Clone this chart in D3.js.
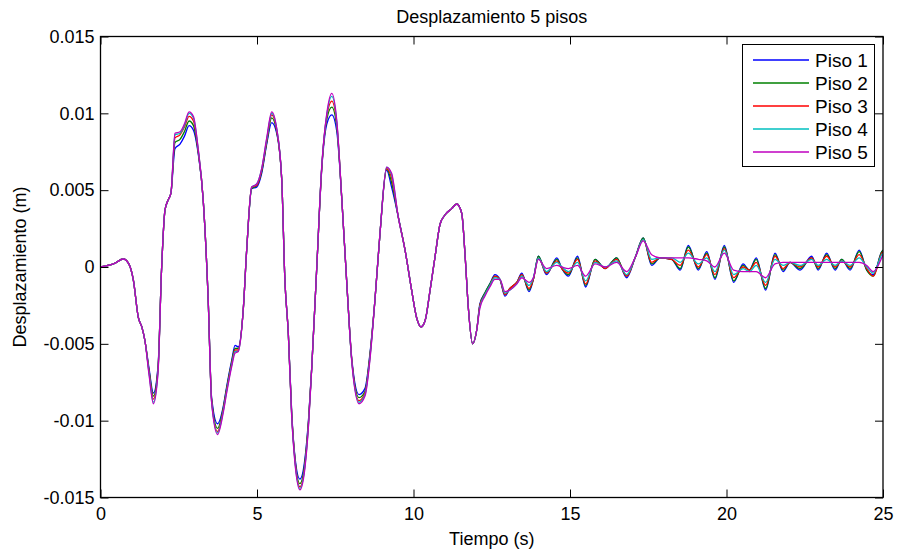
<!DOCTYPE html>
<html>
<head>
<meta charset="utf-8">
<script src="https://cdn.jsdelivr.net/npm/d3@7"></script>
<style>
  html, body { margin: 0; padding: 0; background: #fff; }
  svg { display: block; }
  text { font-family: "Liberation Sans", Arial, Helvetica, sans-serif; fill: #000; }
</style>
</head>
<body>
<svg id="chart" width="897" height="553"></svg>
<script>
// ---------- data ----------
const titulo = "Desplazamiento 5 pisos";
const etiquetaX = "Tiempo (s)";
const etiquetaY = "Desplazamiento (m)";
const series = ["Piso 1", "Piso 2", "Piso 3", "Piso 4", "Piso 5"];
const colores = ["#0000FF", "#008000", "#FF0000", "#00BFBF", "#BF00BF"];
const ticksX = [0, 5, 10, 15, 20, 25];
const ticksY = [-0.015, -0.01, -0.005, 0, 0.005, 0.01, 0.015];

const tiempo = [
  0, 0.45, 0.73, 0.9, 1.05, 1.21, 1.32, 1.42, 1.55, 1.69,
  1.84, 1.95, 2.06, 2.17, 2.25, 2.38, 2.54, 2.68, 2.83, 2.97,
  3.12, 3.28, 3.44, 3.55, 3.74, 3.92, 4.03, 4.19, 4.3, 4.4,
  4.56, 4.67, 4.83, 4.99, 5.15, 5.31, 5.47, 5.63, 5.79, 5.89,
  6.0, 6.11, 6.21, 6.37, 6.53, 6.65, 6.75, 6.91, 7.07, 7.23,
  7.39, 7.55, 7.71, 7.87, 8.03, 8.26, 8.45, 8.61, 8.77, 8.93,
  9.14, 9.3, 9.51, 9.73, 9.94, 10.1, 10.24, 10.37, 10.53, 10.69,
  10.85, 11.01, 11.22, 11.38, 11.54, 11.65, 11.75, 11.89, 12.02,
  12.12, 12.28, 12.44, 12.6, 12.76, 12.92, 13.08, 13.3, 13.46, 13.69,
  13.83, 13.99, 14.25, 14.58, 14.74, 14.95, 15.24, 15.5, 15.8, 16.12,
  16.49, 16.81, 17.08, 17.34, 17.61, 17.88, 18.25, 18.52, 18.78, 19.1,
  19.37, 19.63, 19.93, 20.23, 20.53, 20.73, 20.95, 21.25, 21.55, 21.81,
  22.03, 22.35, 22.72, 22.93, 23.2, 23.47, 23.68, 23.95, 24.24, 24.48,
  24.69, 24.96, 25
];

const piso1 = [
  0, 0.00024, 0.00052, 0.00022, -0.00085, -0.0033, -0.0039, -0.0048, -0.0066, -0.0082,
  -0.0064, -0.0002, 0.0037, 0.0044, 0.0048, 0.0077, 0.0080, 0.0085, 0.0092, 0.0089,
  0.0074, 0.0044, -0.0021, -0.0085, -0.0102, -0.0091, -0.0078, -0.0061, -0.0051, -0.0052,
  -0.0028, 0.0011, 0.0051, 0.0052, 0.0061, 0.0080, 0.0094, 0.0087, 0.0057, -0.0008,
  -0.0043, -0.0095, -0.0123, -0.0138, -0.0125, -0.0098, -0.0065, 0, 0.0064, 0.0093,
  0.0099, 0.0088, 0.0044, -0.0011, -0.0060, -0.0083, -0.0079, -0.0056, -0.0021, 0.0022,
  0.0063, 0.0052, 0.0033, 0.0011, -0.0015, -0.0033, -0.0039, -0.0035, -0.0015, 0.0007,
  0.0028, 0.0034, 0.0038, 0.0041, 0.0035, 0.0007, -0.0026, -0.0050, -0.0041,
  -0.0024, -0.0017, -0.0011, -0.0005, -0.0008, -0.0019, -0.0014, -0.0010, -0.0004, -0.0016,
  -0.0008, 0.0007, -0.0005, 0.0006, -0.0001, -0.0006, 0.0007, -0.0013, 0.0005, -0.0001,
  0.0006, -0.0007, 0.0006, 0.0019, 0.0001, 0.0006, 0.0005, -0.0002, 0.0014, -0.0002,
  0.0010, -0.0008, 0.0014, -0.0010, 0.0002, -0.0002, 0.0006, -0.0015, 0.0009, -0.0003,
  0.0003, -0.0002, 0.0007, -0.0002, 0.0009, -0.0002, 0.0005, -0.0002, 0.0011, -0.0002,
  -0.0005, 0.0010, 0.0011
];

const piso2 = [
  0, 0.00024, 0.00052, 0.00022, -0.00085, -0.0033, -0.0039, -0.0048, -0.0067, -0.0084,
  -0.0065, -0.0002, 0.0037, 0.0044, 0.0048, 0.0081, 0.0083, 0.0088, 0.0095, 0.0092,
  0.0075, 0.0044, -0.0021, -0.0086, -0.0105, -0.0092, -0.0079, -0.0062, -0.0053, -0.0053,
  -0.0028, 0.0011, 0.0051, 0.0053, 0.0062, 0.0081, 0.0097, 0.0088, 0.0057, -0.0008,
  -0.0043, -0.0096, -0.0124, -0.0141, -0.0127, -0.0099, -0.0065, 0, 0.0065, 0.0096,
  0.0104, 0.0091, 0.0044, -0.0011, -0.0061, -0.0085, -0.0081, -0.0057, -0.0021, 0.0022,
  0.0064, 0.0055, 0.0033, 0.0011, -0.0015, -0.0033, -0.0039, -0.0035, -0.0015, 0.0007,
  0.0028, 0.0034, 0.0038, 0.0041, 0.0035, 0.0007, -0.0026, -0.0050, -0.0041,
  -0.0025, -0.0017, -0.0011, -0.0006, -0.0008, -0.0018, -0.0014, -0.0010, -0.0005, -0.0015,
  -0.0008, 0.0007, -0.0004, 0.0005, -0.0001, -0.0005, 0.0006, -0.0012, 0.0005, -0.0001,
  0.0006, -0.0006, 0.0006, 0.0019, 0.0002, 0.0006, 0.0005, -0.0001, 0.0013, -0.0001,
  0.0009, -0.0007, 0.0013, -0.0009, 0.0001, -0.0002, 0.0005, -0.0014, 0.0008, -0.0002,
  0.0003, -0.0001, 0.0006, -0.0001, 0.0008, -0.0001, 0.0005, -0.0001, 0.0010, -0.0002,
  -0.0006, 0.0010, 0.0011
];

const piso3 = [
  0, 0.00024, 0.00052, 0.00022, -0.00085, -0.0033, -0.0039, -0.0048, -0.0068, -0.0086,
  -0.0066, -0.0002, 0.0037, 0.0044, 0.0048, 0.0084, 0.0086, 0.0091, 0.0098, 0.0095,
  0.0076, 0.0044, -0.0021, -0.0087, -0.0107, -0.0093, -0.0080, -0.0063, -0.0054, -0.0054,
  -0.0028, 0.0011, 0.0052, 0.0053, 0.0063, 0.0082, 0.0099, 0.0089, 0.0057, -0.0008,
  -0.0043, -0.0097, -0.0125, -0.0143, -0.0129, -0.0100, -0.0065, 0, 0.0065, 0.0098,
  0.0108, 0.0093, 0.0044, -0.0011, -0.0061, -0.0087, -0.0082, -0.0058, -0.0021, 0.0022,
  0.0064, 0.0058, 0.0033, 0.0011, -0.0015, -0.0033, -0.0039, -0.0035, -0.0015, 0.0007,
  0.0028, 0.0034, 0.0038, 0.0041, 0.0035, 0.0007, -0.0026, -0.0050, -0.0041,
  -0.0025, -0.0018, -0.0012, -0.0006, -0.0008, -0.0018, -0.0014, -0.0010, -0.0005, -0.0014,
  -0.0008, 0.0006, -0.0004, 0.0004, -0.0001, -0.0004, 0.0005, -0.0011, 0.0004, -0.0001,
  0.0005, -0.0006, 0.0006, 0.0018, 0.0003, 0.0006, 0.0005, 0.0001, 0.0011, 0.0000,
  0.0008, -0.0005, 0.0012, -0.0007, 0.0000, -0.0002, 0.0003, -0.0012, 0.0007, -0.0001,
  0.0003, 0.0000, 0.0006, 0.0000, 0.0007, 0.0000, 0.0004, 0.0000, 0.0008, -0.0001,
  -0.0006, 0.0009, 0.0010
];

const piso4 = [
  0, 0.00024, 0.00052, 0.00022, -0.00085, -0.0033, -0.0039, -0.0048, -0.0069, -0.0088,
  -0.0067, -0.0002, 0.0037, 0.0044, 0.0048, 0.0086, 0.0087, 0.0092, 0.0100, 0.0097,
  0.0077, 0.0044, -0.0021, -0.0088, -0.0108, -0.0094, -0.0081, -0.0064, -0.0055, -0.0055,
  -0.0028, 0.0011, 0.0052, 0.0054, 0.0064, 0.0083, 0.0100, 0.0090, 0.0057, -0.0008,
  -0.0043, -0.0098, -0.0126, -0.0144, -0.0130, -0.0101, -0.0065, 0, 0.0066, 0.0099,
  0.0111, 0.0094, 0.0044, -0.0011, -0.0062, -0.0088, -0.0083, -0.0059, -0.0021, 0.0022,
  0.0065, 0.0060, 0.0033, 0.0011, -0.0015, -0.0033, -0.0039, -0.0035, -0.0015, 0.0007,
  0.0028, 0.0034, 0.0038, 0.0041, 0.0035, 0.0007, -0.0026, -0.0050, -0.0041,
  -0.0026, -0.0018, -0.0012, -0.0007, -0.0008, -0.0017, -0.0015, -0.0011, -0.0006, -0.0012,
  -0.0007, 0.0006, -0.0003, 0.0003, 0.0000, -0.0003, 0.0003, -0.0009, 0.0003, 0.0000,
  0.0004, -0.0005, 0.0006, 0.0018, 0.0005, 0.0006, 0.0006, 0.0003, 0.0009, 0.0002,
  0.0006, -0.0003, 0.0011, -0.0005, -0.0001, -0.0003, 0.0001, -0.0010, 0.0005, 0.0001,
  0.0003, 0.0001, 0.0005, 0.0001, 0.0005, 0.0001, 0.0004, 0.0001, 0.0006, 0.0000,
  -0.0004, 0.0008, 0.0009
];

const piso5 = [
  0, 0.00024, 0.00052, 0.00022, -0.00085, -0.0033, -0.0039, -0.0048, -0.0070, -0.0089,
  -0.0068, -0.0002, 0.0037, 0.0044, 0.0048, 0.0087, 0.0088, 0.0093, 0.0101, 0.0098,
  0.0077, 0.0044, -0.0021, -0.0088, -0.0109, -0.0095, -0.0082, -0.0065, -0.0056, -0.0055,
  -0.0028, 0.0011, 0.0052, 0.0054, 0.0064, 0.0084, 0.0101, 0.0090, 0.0057, -0.0008,
  -0.0043, -0.0098, -0.0127, -0.0145, -0.0131, -0.0102, -0.0065, 0, 0.0066, 0.0100,
  0.0113, 0.0095, 0.0044, -0.0011, -0.0062, -0.0089, -0.0084, -0.0060, -0.0021, 0.0022,
  0.0065, 0.0061, 0.0033, 0.0011, -0.0015, -0.0033, -0.0039, -0.0035, -0.0015, 0.0007,
  0.0028, 0.0034, 0.0038, 0.0041, 0.0035, 0.0007, -0.0026, -0.0050, -0.0041,
  -0.0027, -0.0019, -0.0013, -0.0008, -0.0008, -0.0016, -0.0015, -0.0011, -0.0007, -0.0010,
  -0.0007, 0.0005, -0.0001, 0.0001, 0.0000, -0.0001, 0.0001, -0.0006, 0.0002, 0.0000,
  0.0003, -0.0003, 0.0006, 0.0017, 0.0008, 0.0006, 0.0006, 0.0006, 0.0006, 0.0005,
  0.0004, 0.0000, 0.0009, -0.0002, -0.0003, -0.0003, -0.0003, -0.0007, 0.0002, 0.0003,
  0.0003, 0.0003, 0.0003, 0.0003, 0.0003, 0.0003, 0.0003, 0.0003, 0.0003, 0.0001,
  -0.0003, 0.0006, 0.0008
];

const valores = [piso1, piso2, piso3, piso4, piso5];

// ---------- drawing ----------
const svg = d3.select("#chart");
const mLeft = 100.5, mRight = 883, mTop = 36.5, mBottom = 497.5;

const x = d3.scaleLinear().domain([0, 25]).range([mLeft, mRight]);
const y = d3.scaleLinear().domain([-0.015, 0.015]).range([mBottom, mTop]);

svg.append("rect").attr("width", 897).attr("height", 553).attr("fill", "#fff");

svg.append("defs").append("clipPath").attr("id", "clip")
  .append("rect").attr("x", mLeft).attr("y", mTop)
  .attr("width", mRight - mLeft).attr("height", mBottom - mTop);

const linea = d3.line()
  .x(d => x(d[0]))
  .y(d => y(d[1]))
  .curve(d3.curveMonotoneX);

const g = svg.append("g").attr("clip-path", "url(#clip)");
valores.forEach((vals, i) => {
  const n = Math.min(tiempo.length, vals.length);
  const pts = d3.range(n).map(k => [tiempo[k], vals[k]]);
  g.append("path")
    .attr("d", linea(pts))
    .attr("fill", "none")
    .attr("stroke", colores[i])
    .attr("stroke-width", 1.3)
    .attr("stroke-linejoin", "round");
});

// axes (MATLAB style box, inward ticks on all sides)
const fmtY = d => d === 0 ? "0" : String(+d.toFixed(3));
const tickLen = 8;

const axB = d3.axisBottom(x).tickValues(ticksX).tickSize(-tickLen).tickPadding(10).tickFormat(d => String(d));
const axT = d3.axisTop(x).tickValues(ticksX).tickSize(-tickLen).tickFormat("");
const axL = d3.axisLeft(y).tickValues(ticksY).tickSize(-tickLen).tickPadding(6).tickFormat(fmtY);
const axR = d3.axisRight(y).tickValues(ticksY).tickSize(-tickLen).tickFormat("");

function styleAxis(sel) {
  sel.selectAll(".domain").remove();
  sel.selectAll(".tick line").attr("stroke", "#000").attr("stroke-width", 1);
  sel.selectAll(".tick text").attr("font-size", 18).attr("fill", "#000")
    .attr("font-family", '"Liberation Sans", Arial, sans-serif');
}
svg.append("g").attr("transform", `translate(0,${mBottom})`).call(axB).call(styleAxis);
svg.append("g").attr("transform", `translate(0,${mTop})`).call(axT).call(styleAxis);
svg.append("g").attr("transform", `translate(${mLeft},0)`).call(axL).call(styleAxis);
svg.append("g").attr("transform", `translate(${mRight},0)`).call(axR).call(styleAxis);

svg.append("rect")
  .attr("x", mLeft).attr("y", mTop)
  .attr("width", mRight - mLeft).attr("height", mBottom - mTop)
  .attr("fill", "none").attr("stroke", "#000").attr("stroke-width", 1.3);

// title & labels
svg.append("text").attr("x", (mLeft + mRight) / 2).attr("y", 23)
  .attr("text-anchor", "middle").attr("font-size", 18).text(titulo);
svg.append("text").attr("x", (mLeft + mRight) / 2).attr("y", 545)
  .attr("text-anchor", "middle").attr("font-size", 18).text(etiquetaX);
svg.append("text")
  .attr("transform", `translate(26,${(mTop + mBottom) / 2}) rotate(-90)`)
  .attr("text-anchor", "middle").attr("font-size", 18).text(etiquetaY);

// legend
const lg = svg.append("g");
lg.append("rect").attr("x", 742.5).attr("y", 44.5).attr("width", 132).attr("height", 122)
  .attr("fill", "#fff").attr("stroke", "#000").attr("stroke-width", 1);
series.forEach((s, i) => {
  const yy = 60 + i * 23;
  lg.append("line").attr("x1", 753).attr("x2", 809).attr("y1", yy).attr("y2", yy)
    .attr("stroke", colores[i]).attr("stroke-width", 1.3);
  lg.append("text").attr("x", 815).attr("y", yy).attr("dy", "0.35em")
    .attr("font-size", 19).text(s);
});
</script>
</body>
</html>
